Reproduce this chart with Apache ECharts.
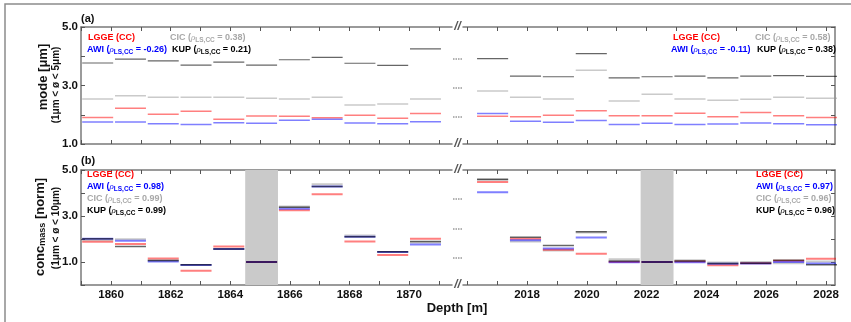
<!DOCTYPE html>
<html><head><meta charset="utf-8">
<script src="https://cdn.jsdelivr.net/npm/echarts@6/dist/echarts.min.js"></script>
<style>html,body{margin:0;padding:0;background:#fff}#c{width:851px;height:322px}</style>
</head><body><div id="c"></div>
<script>
// ---- depth bins (bag tops, m) ----
const leftTops = [1859.0, 1860.1, 1861.2, 1862.3, 1863.4, 1864.5, 1865.6, 1866.7, 1867.8, 1868.9, 1870.0];
const leftEnd = 1871.1;
const rightTops = [2016.3, 2017.4, 2018.5, 2019.6, 2020.7, 2021.8, 2022.9, 2024.0, 2025.1, 2026.2, 2027.3];
const rightEnd = 2028.4;
// normalisation bag (shaded in panel b)
const shadeLeft = [1864.5, 1865.6];
const shadeRight = [2021.8, 2022.9];

// ---- tick values ----
const leftTicks = [1859,1860,1861,1862,1863,1864,1865,1866,1867,1868,1869,1870,1871];
const leftLabels = [1860,1862,1864,1866,1868,1870];
const rightTicks = [2016,2017,2018,2019,2020,2021,2022,2023,2024,2025,2026,2027,2028];
const rightLabels = [2018,2020,2022,2024,2026,2028];
const yLabels = [1,3,5];

// ---- panel (a): mode [um] ----
const aL_KUP  = [3.77, 3.90, 3.84, 3.70, 3.80, 3.70, 3.88, 3.96, 3.76, 3.69, 4.25];
const aL_CIC  = [2.54, 2.65, 2.60, 2.60, 2.60, 2.56, 2.54, 2.60, 2.33, 2.37, 2.54];
const aL_LGGE = [1.91, 2.22, 2.02, 2.12, 1.85, 1.96, 1.95, 1.90, 1.98, 1.88, 2.04];
const aL_AWI  = [1.75, 1.75, 1.69, 1.67, 1.73, 1.71, 1.81, 1.85, 1.72, 1.69, 1.76];
const aR_KUP  = [3.92, 3.32, 3.30, 4.09, 3.26, 3.30, 3.32, 3.26, 3.32, 3.34, 3.31];
const aR_CIC  = [2.81, 2.60, 2.54, 3.52, 2.47, 2.70, 2.54, 2.50, 2.53, 2.60, 2.56];
const aR_LGGE = [1.95, 1.93, 1.98, 2.14, 1.97, 1.97, 2.05, 1.93, 2.08, 1.97, 1.91];
const aR_AWI  = [2.04, 1.78, 1.74, 1.80, 1.67, 1.71, 1.67, 1.68, 1.72, 1.69, 1.66];

// ---- panel (b): conc_mass [norm] ----
const bL_LGGE = [1.88, 1.78, 1.15, 0.62, 1.67, 1.00, 3.25, 3.95, 1.89, 1.30, 2.01];
const bL_AWI  = [2.01, 1.92, 1.02, 0.87, 1.56, 1.00, 3.31, 4.28, 2.10, 1.44, 1.76];
const bL_CIC  = [1.95, 1.99, 1.07, 0.87, 1.56, 1.00, 3.41, 4.38, 2.15, 1.44, 1.85];
const bL_KUP  = [2.01, 1.67, 1.07, 0.88, 1.56, 1.00, 3.38, 4.28, 2.10, 1.45, 1.89];
const bR_LGGE = [4.48, 2.01, 1.53, 1.36, 1.00, 1.00, 1.02, 0.86, 0.95, 1.05, 1.14];
const bR_AWI  = [4.03, 1.95, 1.59, 2.06, 0.99, 1.00, 0.99, 0.92, 0.93, 1.00, 0.93];
const bR_CIC  = [4.57, 1.89, 1.50, 2.28, 1.12, 1.00, 1.08, 0.98, 1.00, 0.95, 1.02];
const bR_KUP  = [4.60, 2.08, 1.72, 2.31, 1.04, 1.00, 1.04, 0.93, 0.95, 1.08, 0.88];

// ---- legend texts ----
const rhoA_L = {AWI: '-0.26', CIC: '0.38', KUP: '0.21'};
const rhoA_R = {AWI: '-0.11', CIC: '0.58', KUP: '0.38'};
const rhoB_L = {AWI: '0.98', CIC: '0.99', KUP: '0.99'};
const rhoB_R = {AWI: '0.97', CIC: '0.96', KUP: '0.96'};

const FONT = 'Liberation Sans, Arial, sans-serif';
const COL = {LGGE:'rgba(255,0,0,0.5)', AWI:'rgba(0,0,255,0.5)', CIC:'rgba(150,150,150,0.5)', KUP:'rgba(0,0,0,0.6)'};
const TXT = {LGGE:'#ff0000', AWI:'#0000ff', CIC:'#a8a8a8', KUP:'#000000'};
const AX = '#7a7a7a';
const GAP = 0.03;

function segs(tops, end, vals) {
  const out = [];
  for (let i = 0; i < tops.length; i++) {
    const s = tops[i], e = i + 1 < tops.length ? tops[i + 1] : end;
    out.push([s + GAP, vals[i]], [e - GAP, vals[i]], [e, null]);
  }
  return out;
}

const grids = [
  {left: 81, top: 27, width: 371, height: 117},
  {left: 463, top: 27, width: 372, height: 117},
  {left: 81, top: 170, width: 371, height: 115},
  {left: 463, top: 170, width: 372, height: 115}
];

function xAx(gi, pos, min, max, ticks, labels) {
  return {
    type: 'value', gridIndex: gi, position: pos, min: min, max: max,
    axisLine: {show: true, onZero: false, lineStyle: {color: AX, width: 1.5}},
    axisTick: {show: true, inside: true, length: 4, customValues: ticks, lineStyle: {color: '#555', width: 1}},
    axisLabel: labels ? {show: true, customValues: labels, margin: 4, color: '#111', fontWeight: 'bold', fontSize: 11.5, fontFamily: FONT, formatter: v => String(Math.round(v))} : {show: false},
    splitLine: {show: false}
  };
}
function yAx(gi, pos, min, max, labels) {
  return {
    type: 'value', gridIndex: gi, position: pos, min: min, max: max, interval: 1,
    axisLine: {show: true, onZero: false, lineStyle: {color: AX, width: 1.5}},
    axisTick: {show: true, inside: true, length: 4, lineStyle: {color: '#555', width: 1}},
    axisLabel: labels ? {show: true, customValues: labels, margin: 3, color: '#111', fontWeight: 'bold', fontSize: 11.5, fontFamily: FONT, formatter: v => Number(v).toFixed(1)} : {show: false},
    splitLine: {show: false}
  };
}

const LMIN = 1858.99, LMAX = 1871.44, RMIN = 2015.86, RMAX = 2028.30;

const xAxis = [
  xAx(0, 'bottom', LMIN, LMAX, leftTicks, null),
  xAx(1, 'bottom', RMIN, RMAX, rightTicks, null),
  xAx(2, 'bottom', LMIN, LMAX, leftTicks, leftLabels),
  xAx(3, 'bottom', RMIN, RMAX, rightTicks, rightLabels),
  xAx(0, 'top', LMIN, LMAX, leftTicks, null),
  xAx(1, 'top', RMIN, RMAX, rightTicks, null),
  xAx(2, 'top', LMIN, LMAX, leftTicks, null),
  xAx(3, 'top', RMIN, RMAX, rightTicks, null)
];
const yAxis = [
  yAx(0, 'left', 1, 5, yLabels),
  yAx(1, 'right', 1, 5, null),
  yAx(2, 'left', 0, 5, yLabels),
  yAx(3, 'right', 0, 5, null)
];

const series = [];
function addLine(gi, tops, end, vals, key, w) {
  series.push({
    type: 'line', xAxisIndex: gi, yAxisIndex: gi, data: segs(tops, end, vals),
    showSymbol: false, symbol: 'none', connectNulls: false, silent: true,
    lineStyle: {color: COL[key], width: w}, itemStyle: {color: COL[key]}, z: 3
  });
}
function addShade(gi, rng) {
  series.push({
    type: 'line', xAxisIndex: gi, yAxisIndex: gi, data: [[rng[0], null]], symbol: 'none', silent: true, z: 1,
    markArea: {silent: true, itemStyle: {color: '#cacaca'}, data: [[{xAxis: rng[0]}, {xAxis: rng[1]}]]}
  });
}
addShade(2, shadeLeft);
addShade(3, shadeRight);
addLine(0, leftTops, leftEnd, aL_CIC, 'CIC', 1.5);
addLine(0, leftTops, leftEnd, aL_KUP, 'KUP', 1.2);
addLine(0, leftTops, leftEnd, aL_LGGE, 'LGGE', 1.5);
addLine(0, leftTops, leftEnd, aL_AWI, 'AWI', 1.5);
addLine(1, rightTops, rightEnd, aR_CIC, 'CIC', 1.5);
addLine(1, rightTops, rightEnd, aR_KUP, 'KUP', 1.2);
addLine(1, rightTops, rightEnd, aR_LGGE, 'LGGE', 1.5);
addLine(1, rightTops, rightEnd, aR_AWI, 'AWI', 1.5);
addLine(2, leftTops, leftEnd, bL_CIC, 'CIC', 2);
addLine(2, leftTops, leftEnd, bL_LGGE, 'LGGE', 2);
addLine(2, leftTops, leftEnd, bL_AWI, 'AWI', 2);
addLine(2, leftTops, leftEnd, bL_KUP, 'KUP', 1.5);
addLine(3, rightTops, rightEnd, bR_CIC, 'CIC', 2);
addLine(3, rightTops, rightEnd, bR_LGGE, 'LGGE', 2);
addLine(3, rightTops, rightEnd, bR_AWI, 'AWI', 2);
addLine(3, rightTops, rightEnd, bR_KUP, 'KUP', 1.5);

// ---- rich legend text ----
function richFor(key) {
  const c = TXT[key];
  const o = {};
  o['m' + key] = {fill: c, fontSize: 9, fontWeight: 'bold', fontFamily: FONT, lineHeight: 12};
  o['r' + key] = {fill: c, fontSize: 9, fontStyle: 'italic', fontWeight: 'normal', fontFamily: 'Liberation Serif, serif', lineHeight: 12};
  o['s' + key] = {fill: c, fontSize: 6.5, fontWeight: 'bold', fontFamily: FONT, lineHeight: 12, padding: [5, 0, 0, 0]};
  return o;
}
const RICH = Object.assign({}, richFor('LGGE'), richFor('AWI'), richFor('CIC'), richFor('KUP'));
function legText(key, rho) {
  if (rho == null) return '{m' + key + '|' + key + ' (CC)}';
  return '{m' + key + '|' + key + ' (}{r' + key + '|ρ}{s' + key + '|LS,CC}{m' + key + '| = ' + rho + ')}';
}
function tx(x, y, text, extra) {
  return Object.assign({type: 'text', x: x, y: y, silent: true, z: 20,
    style: Object.assign({text: text, rich: RICH, align: 'left', verticalAlign: 'middle', fontFamily: FONT}, extra || {})});
}

const graphic = [];
graphic.push({type: 'rect', shape: {x: 5, y: 4, width: 900, height: 400}, style: {fill: 'none', stroke: '#8c8c8c', lineWidth: 1.5}, silent: true, z: 0});
// legends panel a
graphic.push(tx(88, 38, legText('LGGE')));
graphic.push(tx(170, 38, legText('CIC', rhoA_L.CIC)));
graphic.push(tx(87, 50, legText('AWI', rhoA_L.AWI)));
graphic.push(tx(172, 50, legText('KUP', rhoA_L.KUP)));
graphic.push(tx(673, 38, legText('LGGE')));
graphic.push(tx(755, 38, legText('CIC', rhoA_R.CIC)));
graphic.push(tx(671, 50, legText('AWI', rhoA_R.AWI)));
graphic.push(tx(757, 50, legText('KUP', rhoA_R.KUP)));
// legends panel b
graphic.push(tx(87, 175, legText('LGGE')));
graphic.push(tx(87, 187, legText('AWI', rhoB_L.AWI)));
graphic.push(tx(87, 199, legText('CIC', rhoB_L.CIC)));
graphic.push(tx(87, 211, legText('KUP', rhoB_L.KUP)));
graphic.push(tx(756, 175, legText('LGGE')));
graphic.push(tx(756, 187, legText('AWI', rhoB_R.AWI)));
graphic.push(tx(756, 199, legText('CIC', rhoB_R.CIC)));
graphic.push(tx(756, 211, legText('KUP', rhoB_R.KUP)));
// panel letters
graphic.push(tx(81, 19, '(a)', {fontSize: 11, fontWeight: 'bold', fill: '#111'}));
graphic.push(tx(81, 161, '(b)', {fontSize: 11, fontWeight: 'bold', fill: '#111'}));
// axis titles
graphic.push({type: 'text', x: 43, y: 77, rotation: Math.PI / 2, silent: true,
  style: {text: 'mode [μm]', fontSize: 13, fontWeight: 'bold', fontFamily: FONT, fill: '#111', align: 'center', verticalAlign: 'middle'}});
graphic.push({type: 'text', x: 56, y: 85, rotation: Math.PI / 2, silent: true,
  style: {text: '(1μm < ø < 5μm)', fontSize: 10, fontWeight: 'bold', fontFamily: FONT, fill: '#111', align: 'center', verticalAlign: 'middle'}});
graphic.push({type: 'text', x: 40, y: 227, rotation: Math.PI / 2, silent: true,
  style: {text: '{t|conc}{s|mass}{t| [norm]}', align: 'center', verticalAlign: 'middle',
    rich: {t: {fontSize: 13, fontWeight: 'bold', fontFamily: FONT, fill: '#111', lineHeight: 16},
           s: {fontSize: 9, fontWeight: 'bold', fontFamily: FONT, fill: '#111', lineHeight: 16, padding: [6, 0, 0, 0]}}}});
graphic.push({type: 'text', x: 56, y: 228, rotation: Math.PI / 2, silent: true,
  style: {text: '(1μm < ø < 10μm)', fontSize: 10, fontWeight: 'bold', fontFamily: FONT, fill: '#111', align: 'center', verticalAlign: 'middle'}});
graphic.push({type: 'text', x: 457, y: 308, silent: true,
  style: {text: 'Depth [m]', fontSize: 13, fontWeight: 'bold', fontFamily: FONT, fill: '#111', align: 'center', verticalAlign: 'middle'}});
// axis break marks
[27, 144, 170, 285].forEach(function (y) {
  graphic.push({type: 'text', x: 457.5, y: y, silent: true, z: 20,
    style: {text: '//', fontSize: 12, fontWeight: 'bold', fontStyle: 'italic', fontFamily: FONT, fill: '#555', align: 'center', verticalAlign: 'middle'}});
});
[59, 88, 117, 199, 229, 258].forEach(function (y) {
  graphic.push({type: 'line', silent: true, shape: {x1: 453, y1: y, x2: 462, y2: y},
    style: {stroke: '#666', lineWidth: 1, lineDash: [1.5, 1]}});
});

const chart = echarts.init(document.getElementById('c'), null, {renderer: 'canvas'});
chart.setOption({
  animation: false,
  backgroundColor: '#fff',
  grid: grids,
  xAxis: xAxis,
  yAxis: yAxis,
  series: series,
  graphic: graphic
});
</script>
</body></html>
